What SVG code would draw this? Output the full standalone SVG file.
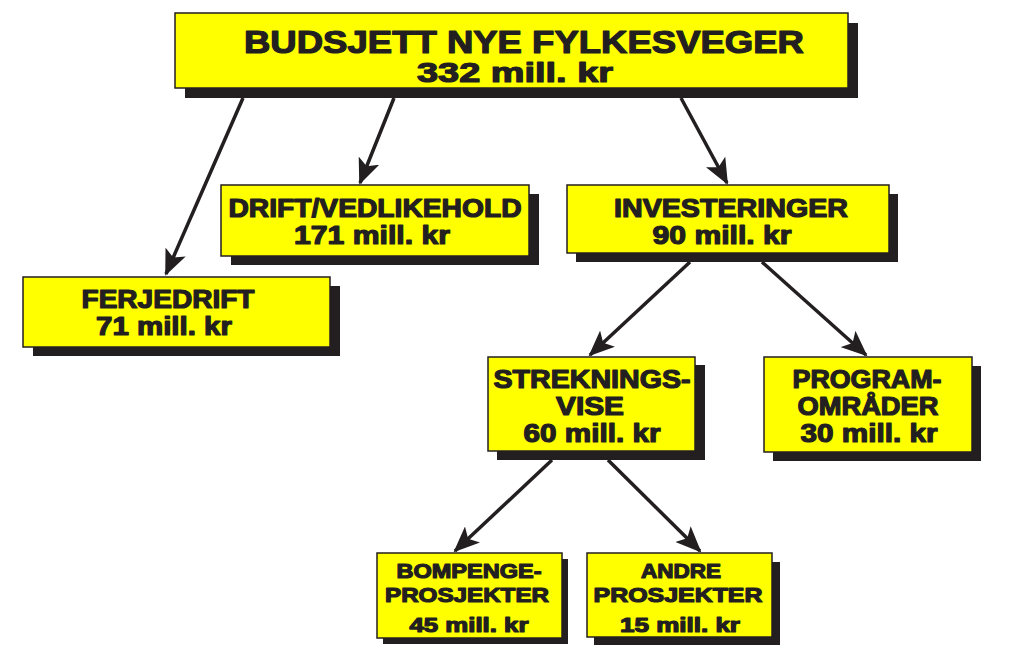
<svg xmlns="http://www.w3.org/2000/svg" width="1024" height="656" viewBox="0 0 1024 656">
<defs>
<style>
.sh{fill:#231f20}
.bx{fill:#ffff00;stroke:#231f20;stroke-width:1.5}
.t{font-family:"Liberation Sans",Arial,sans-serif;font-weight:bold;fill:#231f20;stroke:#231f20;stroke-width:1.2;stroke-linejoin:round;text-anchor:middle}
.l{stroke:#231f20;stroke-width:3.5;fill:none;marker-end:url(#ah)}
</style>
<marker id="ah" viewBox="0 0 26 22" refX="24" refY="11" markerWidth="26" markerHeight="22" orient="auto" markerUnits="userSpaceOnUse">
<path d="M0,0 L26,11 L0,22 L6,11 Z" fill="#231f20"/>
</marker>
</defs>
<rect width="1024" height="656" fill="#ffffff"/>
<g id="connectors">
<line class="l" x1="243" y1="98" x2="166" y2="274"/>
<line class="l" x1="394" y1="98" x2="360" y2="183"/>
<line class="l" x1="681" y1="98" x2="727" y2="183"/>
<line class="l" x1="690" y1="262" x2="590" y2="355"/>
<line class="l" x1="762" y1="262" x2="866" y2="355"/>
<line class="l" x1="552" y1="460" x2="455" y2="551"/>
<line class="l" x1="608" y1="460" x2="700" y2="551"/>
</g>
<g id="budsjett">
<rect class="sh" x="185" y="23" width="673" height="75"/>
<rect class="bx" x="175" y="13" width="673" height="75"/>
<text class="t" x="524" y="53" font-size="31" textLength="560" lengthAdjust="spacingAndGlyphs">BUDSJETT NYE FYLKESVEGER</text>
<text class="t" x="515" y="82" font-size="28" textLength="196" lengthAdjust="spacingAndGlyphs">332 mill. kr</text>
</g>
<g id="drift">
<rect class="sh" x="231" y="194" width="308" height="71"/>
<rect class="bx" x="221" y="185" width="308" height="71"/>
<text class="t" x="375" y="217" font-size="25" textLength="293" lengthAdjust="spacingAndGlyphs">DRIFT/VEDLIKEHOLD</text>
<text class="t" x="372" y="244" font-size="25" textLength="156" lengthAdjust="spacingAndGlyphs">171 mill. kr</text>
</g>
<g id="ferjedrift">
<rect class="sh" x="33" y="286" width="307" height="70"/>
<rect class="bx" x="23" y="277" width="307" height="70"/>
<text class="t" x="168" y="308" font-size="25" textLength="173" lengthAdjust="spacingAndGlyphs">FERJEDRIFT</text>
<text class="t" x="164" y="335" font-size="25" textLength="136" lengthAdjust="spacingAndGlyphs">71 mill. kr</text>
</g>
<g id="investeringer">
<rect class="sh" x="576" y="194" width="322" height="68"/>
<rect class="bx" x="567" y="185" width="322" height="68"/>
<text class="t" x="731" y="217" font-size="25" textLength="234" lengthAdjust="spacingAndGlyphs">INVESTERINGER</text>
<text class="t" x="722" y="244" font-size="25" textLength="139" lengthAdjust="spacingAndGlyphs">90 mill. kr</text>
</g>
<g id="strekningsvise">
<rect class="sh" x="497" y="365" width="208" height="95"/>
<rect class="bx" x="488" y="357" width="207" height="94"/>
<text class="t" x="592" y="388" font-size="25" textLength="197" lengthAdjust="spacingAndGlyphs">STREKNINGS-</text>
<text class="t" x="590" y="415" font-size="25" textLength="68" lengthAdjust="spacingAndGlyphs">VISE</text>
<text class="t" x="592" y="442" font-size="25" textLength="137" lengthAdjust="spacingAndGlyphs">60 mill. kr</text>
</g>
<g id="programomrader">
<rect class="sh" x="773" y="366" width="208" height="95"/>
<rect class="bx" x="764" y="357" width="208" height="95"/>
<text class="t" x="867" y="388" font-size="25" textLength="149" lengthAdjust="spacingAndGlyphs">PROGRAM-</text>
<text class="t" x="868" y="415" font-size="25" textLength="141" lengthAdjust="spacingAndGlyphs">OMRÅDER</text>
<text class="t" x="869" y="442" font-size="25" textLength="137" lengthAdjust="spacingAndGlyphs">30 mill. kr</text>
</g>
<g id="bompenge">
<rect class="sh" x="383" y="559" width="185" height="85"/>
<rect class="bx" x="377" y="553" width="185" height="85"/>
<text class="t" x="469" y="578" font-size="20" textLength="145" lengthAdjust="spacingAndGlyphs">BOMPENGE-</text>
<text class="t" x="467" y="602" font-size="20" textLength="164" lengthAdjust="spacingAndGlyphs">PROSJEKTER</text>
<text class="t" x="469" y="632" font-size="20" textLength="119" lengthAdjust="spacingAndGlyphs">45 mill. kr</text>
</g>
<g id="andre">
<rect class="sh" x="594" y="562" width="186" height="83"/>
<rect class="bx" x="587" y="553" width="185" height="84"/>
<text class="t" x="681" y="578" font-size="20" textLength="80" lengthAdjust="spacingAndGlyphs">ANDRE</text>
<text class="t" x="678" y="602" font-size="20" textLength="169" lengthAdjust="spacingAndGlyphs">PROSJEKTER</text>
<text class="t" x="680" y="632" font-size="20" textLength="120" lengthAdjust="spacingAndGlyphs">15 mill. kr</text>
</g>
</svg>
